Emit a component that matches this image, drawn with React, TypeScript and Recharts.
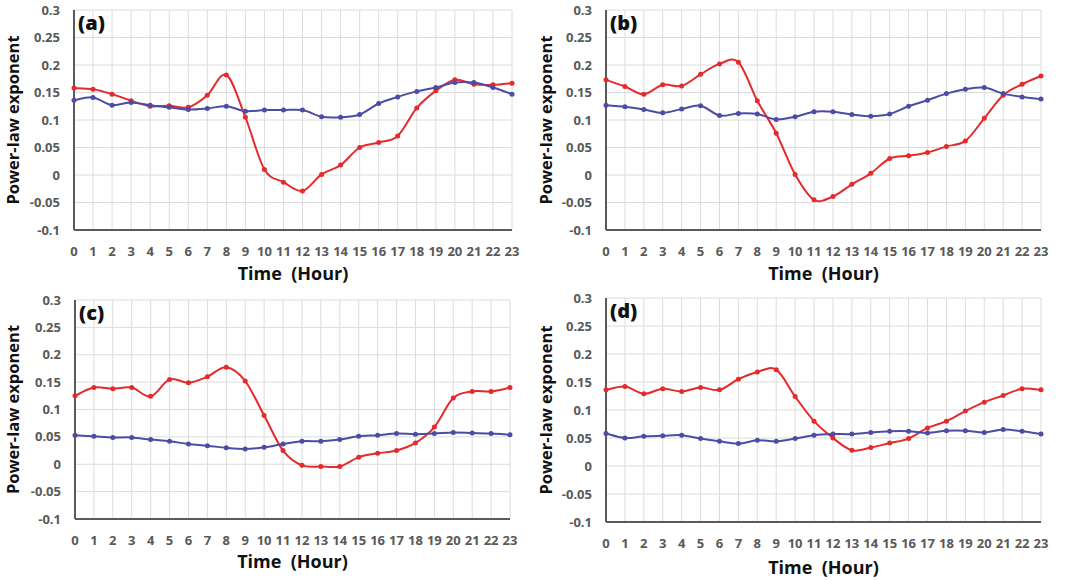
import { LineChart, Line, XAxis, YAxis, CartesianGrid } from 'recharts';

const hours = [0, 1, 2, 3, 4, 5, 6, 7, 8, 9, 10, 11, 12, 13, 14, 15, 16, 17, 18, 19, 20, 21, 22, 23];
const yTicks = [-0.1, -0.05, 0, 0.05, 0.1, 0.15, 0.2, 0.25, 0.3];

const redA = [0.158, 0.156, 0.147, 0.135, 0.125, 0.126, 0.123, 0.145, 0.182, 0.105, 0.01, -0.013, -0.029, 0.001, 0.018, 0.05, 0.059, 0.071, 0.122, 0.153, 0.173, 0.165, 0.164, 0.167];
const blueA = [0.136, 0.141, 0.127, 0.132, 0.127, 0.123, 0.119, 0.121, 0.125, 0.116, 0.118, 0.118, 0.118, 0.106, 0.105, 0.11, 0.13, 0.142, 0.152, 0.159, 0.168, 0.168, 0.159, 0.147];

const redB = [0.173, 0.161, 0.147, 0.164, 0.162, 0.183, 0.202, 0.205, 0.135, 0.076, 0.001, -0.045, -0.039, -0.017, 0.003, 0.03, 0.035, 0.041, 0.052, 0.062, 0.103, 0.145, 0.165, 0.18];
const blueB = [0.127, 0.124, 0.119, 0.113, 0.12, 0.126, 0.108, 0.112, 0.111, 0.101, 0.106, 0.115, 0.115, 0.11, 0.107, 0.111, 0.125, 0.136, 0.148, 0.156, 0.159, 0.148, 0.142, 0.138];

const redC = [0.125, 0.14, 0.138, 0.14, 0.124, 0.155, 0.149, 0.16, 0.177, 0.152, 0.089, 0.025, -0.002, -0.004, -0.004, 0.013, 0.02, 0.025, 0.039, 0.068, 0.121, 0.133, 0.133, 0.14];
const blueC = [0.053, 0.051, 0.049, 0.049, 0.045, 0.042, 0.037, 0.034, 0.03, 0.028, 0.031, 0.037, 0.042, 0.042, 0.045, 0.051, 0.053, 0.056, 0.055, 0.056, 0.058, 0.057, 0.056, 0.054];

const redD = [0.136, 0.142, 0.129, 0.138, 0.133, 0.14, 0.136, 0.155, 0.168, 0.172, 0.124, 0.08, 0.05, 0.028, 0.033, 0.041, 0.049, 0.068, 0.08, 0.098, 0.114, 0.126, 0.138, 0.136];
const blueD = [0.058, 0.05, 0.053, 0.054, 0.055, 0.049, 0.044, 0.04, 0.046, 0.044, 0.049, 0.055, 0.057, 0.057, 0.06, 0.062, 0.062, 0.059, 0.063, 0.063, 0.06, 0.065, 0.062, 0.057];

const RED = '#e52a2c';
const BLUE = '#4c4ca6';
const FONT = '"Open Sans", "Noto Sans", sans-serif';

// Excel-like smoothed line (catmull-rom style bezier)
const smoothCurve = (context: any) => {
  let pts: number[][] = [];
  return {
    areaStart() {},
    areaEnd() {},
    lineStart() {
      pts = [];
    },
    point(x: number, y: number) {
      pts.push([+x, +y]);
    },
    lineEnd() {
      if (!pts.length) return;
      context.moveTo(pts[0][0], pts[0][1]);
      for (let i = 0; i < pts.length - 1; i++) {
        const p0 = pts[i - 1] || pts[i];
        const p1 = pts[i];
        const p2 = pts[i + 1];
        const p3 = pts[i + 2] || p2;
        context.bezierCurveTo(
          p1[0] + (p2[0] - p0[0]) / 6,
          p1[1] + (p2[1] - p0[1]) / 6,
          p2[0] - (p3[0] - p1[0]) / 6,
          p2[1] - (p3[1] - p1[1]) / 6,
          p2[0],
          p2[1]
        );
      }
    },
  };
};

type PanelProps = {
  tag: string;
  red: number[];
  blue: number[];
  left: number;
  top: number;
  plotLeft: number;
  plotRight: number;
  plotTop: number;
  plotBottom: number;
  labelOffset: number;
};

const W = 533;
const H = 290;
const border = { stroke: '#5a5a5a', strokeWidth: 2 };

const Panel = ({ tag, red, blue, left, top, plotLeft, plotRight, plotTop, plotBottom, labelOffset }: PanelProps) => {
  const data = hours.map((h, i) => ({ h, red: red[i], blue: blue[i] }));
  const yMid = (plotTop + plotBottom) / 2;
  return (
    <div style={{ position: 'absolute', left, top, width: W, height: H }}>
      <LineChart width={W} height={H} data={data} margin={{ top: plotTop, right: W - plotRight, bottom: 0, left: 0 }}>
        <CartesianGrid stroke="#dcdcdc" strokeWidth={1} />
        <XAxis
          dataKey="h"
          interval={0}
          height={H - plotBottom}
          tickLine={false}
          tickSize={6}
          tickMargin={11}
          axisLine={border}
          tick={{ fill: '#595959', fontSize: 13, fontWeight: 700, fontFamily: FONT }}
          label={{
            value: 'Time\u00a0\u00a0(Hour)',
            position: 'insideBottom',
            offset: labelOffset,
            fill: '#111',
            fontSize: 18,
            fontWeight: 700,
            fontFamily: FONT,
          }}
        />
        <XAxis xAxisId="top" orientation="top" dataKey="h" height={0} tick={false} tickLine={false} axisLine={border} />
        <YAxis
          domain={[-0.1, 0.3]}
          ticks={yTicks}
          interval={0}
          width={plotLeft}
          tickLine={false}
          tickSize={6}
          tickMargin={8}
          axisLine={border}
          tick={{ fill: '#595959', fontSize: 13, fontWeight: 700, fontFamily: FONT }}
          label={{
            content: () => (
              <text
                x={19}
                y={yMid}
                transform={`rotate(-90 19 ${yMid})`}
                textAnchor="middle"
                fill="#111"
                fontSize={16.5}
                fontWeight={700}
                fontFamily={FONT}
              >
                Power-law exponent
              </text>
            ),
          }}
        />
        <YAxis yAxisId="right" orientation="right" domain={[-0.1, 0.3]} width={0} tick={false} tickLine={false} axisLine={border} />
        <Line
          dataKey="red"
          type={smoothCurve as any}
          stroke={RED}
          strokeWidth={2}
          dot={{ r: 2.5, fill: RED, stroke: RED, strokeWidth: 0 }}
          isAnimationActive={false}
        />
        <Line
          dataKey="blue"
          type={smoothCurve as any}
          stroke={BLUE}
          strokeWidth={2}
          dot={{ r: 2.5, fill: BLUE, stroke: BLUE, strokeWidth: 0 }}
          isAnimationActive={false}
        />
      </LineChart>
      <div
        style={{
          position: 'absolute',
          left: plotLeft + 4,
          top: plotTop + 3,
          fontFamily: FONT,
          fontWeight: 800,
          fontSize: 20,
          lineHeight: '20px',
          color: '#111',
        }}
      >
        {tag}
      </div>
    </div>
  );
};

export default function App() {
  return (
    <div style={{ position: 'absolute', left: 0, top: 0, width: 1066, height: 580, background: '#fff' }}>
      <Panel tag="(a)" red={redA} blue={blueA} left={0} top={0} plotLeft={74} plotRight={512} plotTop={10} plotBottom={230} labelOffset={10} />
      <Panel tag="(b)" red={redB} blue={blueB} left={533} top={0} plotLeft={73} plotRight={508} plotTop={10} plotBottom={230} labelOffset={10} />
      <Panel tag="(c)" red={redC} blue={blueC} left={0} top={290} plotLeft={75} plotRight={510} plotTop={10} plotBottom={229} labelOffset={12} />
      <Panel tag="(d)" red={redD} blue={blueD} left={533} top={290} plotLeft={73} plotRight={508} plotTop={8} plotBottom={232} labelOffset={6} />
    </div>
  );
}
